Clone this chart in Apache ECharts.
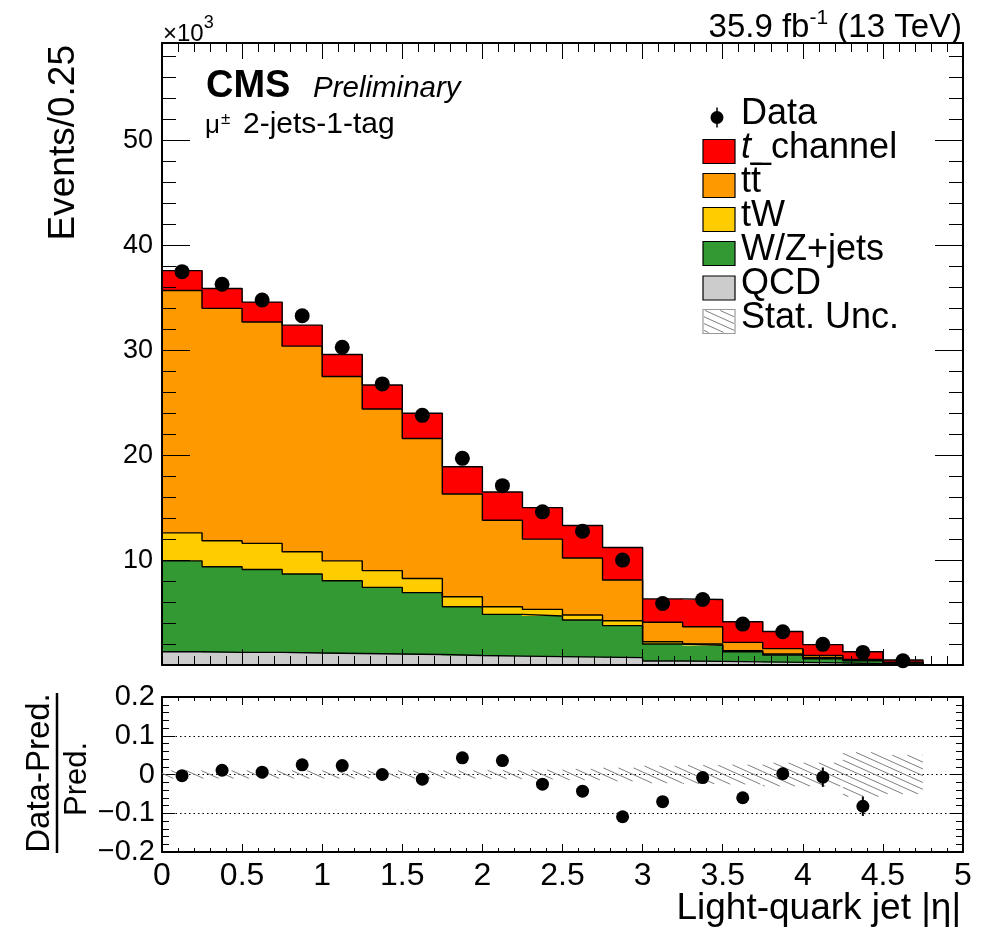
<!DOCTYPE html>
<html>
<head>
<meta charset="utf-8">
<script src="https://cdn.jsdelivr.net/npm/echarts@6/dist/echarts.min.js"></script>
<style>
html, body { margin: 0; padding: 0; background: #fff; }
#chart { width: 993px; height: 945px; }
</style>
</head>
<body>
<div id="chart"></div>
<script>
// bin edges, light-quark jet |eta|
const binEdges = [0, 0.25, 0.5, 0.75, 1, 1.25, 1.5, 1.75, 2, 2.25, 2.5, 2.75, 3, 3.25, 3.5, 3.75, 4, 4.25, 4.5, 4.75, 5];

// per-process yields in each bin (x10^3 events), bottom of the stack first
const qcd      = [1.27, 1.2, 1.2, 1.15, 1.1, 1.05, 1.0, 0.9, 0.85, 0.8, 0.75, 0.7, 0.38, 0.35, 0.3, 0.25, 0.2, 0.12, 0.05, 0];
const wzjets   = [8.66, 8.17, 7.9, 7.52, 6.93, 6.35, 5.9, 4.65, 3.98, 3.87, 3.54, 3.05, 1.62, 1.52, 0.97, 0.7, 0.4, 0.28, 0.15, 0];
const tW       = [2.67, 2.47, 2.5, 2.13, 1.9, 1.6, 1.35, 0.95, 0.72, 0.63, 0.47, 0.47, 0.22, 0.13, 0.1, 0.1, 0.13, 0.05, 0.02, 0];
const ttbar    = [23.1, 22.16, 21.1, 19.6, 17.57, 15.4, 13.35, 9.8, 8.25, 6.7, 5.44, 3.88, 1.85, 1.65, 0.79, 0.51, 0.19, 0.09, 0.04, 0];
const tchannel = [1.9, 1.9, 1.9, 2.0, 2.1, 2.3, 2.4, 2.6, 2.7, 3.0, 3.1, 3.1, 2.23, 2.6, 1.97, 1.64, 1.02, 0.73, 0.22, 0];
const dataObs  = [37.5, 36.3, 34.8, 33.3, 30.3, 26.8, 23.8, 19.7, 17.1, 14.6, 12.76, 10.0, 5.87, 6.25, 3.9, 3.17, 1.97, 1.2, 0.41, null];

// lower panel: (Data-Pred.)/Pred.
const ratio    = [-0.003, 0.011, 0.006, 0.025, 0.023, 0.0, -0.012, 0.043, 0.036, -0.025, -0.043, -0.109, -0.07, -0.008, -0.06, 0.002, -0.007, -0.082, null, null];
const ratioErr = [0.004, 0.004, 0.004, 0.004, 0.004, 0.005, 0.005, 0.006, 0.006, 0.007, 0.008, 0.01, 0.012, 0.012, 0.015, 0.016, 0.025, 0.025, null, null];
const statUnc  = [0.01, 0.01, 0.01, 0.01, 0.01, 0.01, 0.01, 0.01, 0.011, 0.012, 0.014, 0.017, 0.022, 0.024, 0.025, 0.03, 0.03, 0.057, 0.05, 0];

const FONT = "'Liberation Sans', Arial, Helvetica, sans-serif";
const yMaxUpper = 59.3;

const chart = echarts.init(document.getElementById('chart'));

const ctx = document.createElement('canvas').getContext('2d');
function textWidth(str, font) {
	ctx.font = font;
	return ctx.measureText(str).width;
}

// diagonal hatch lines inside a pixel box
function hatchLines(x0, y0, x1, y1) {
	const slope = 0.45, gap = 6.8;
	const out = [];
	const cMin = y0 - slope * x1, cMax = y1 - slope * x0;
	for (let k = Math.ceil(cMin / gap); k * gap <= cMax; k++) {
		const c = k * gap;
		const xa = Math.max(x0, (y0 - c) / slope);
		const xb = Math.min(x1, (y1 - c) / slope);
		if (xb > xa) {
			out.push({
				type: 'line',
				shape: { x1: xa, y1: slope * xa + c, x2: xb, y2: slope * xb + c },
				style: { stroke: '#808080', lineWidth: 1 }
			});
		}
	}
	return out;
}

const layers = [
	{ name: 'QCD', values: qcd, color: '#cccccc' },
	{ name: 'W/Z+jets', values: wzjets, color: '#339933' },
	{ name: 'tW', values: tW, color: '#ffcc00' },
	{ name: 'tt', values: ttbar, color: '#ff9900' },
	{ name: 't_channel', values: tchannel, color: '#ff0000' }
];

const series = [];
let base = qcd.map(() => 0);
layers.forEach(l => {
	const items = l.values.map((v, i) => [binEdges[i], base[i], base[i] + v, binEdges[i + 1]]);
	base = items.map(d => d[2]);
	series.push({
		type: 'custom',
		name: l.name,
		xAxisIndex: 0,
		yAxisIndex: 0,
		z: 2,
		clip: true,
		data: items,
		renderItem: (params, api) => {
			const p0 = api.coord([api.value(0), api.value(2)]);
			const p1 = api.coord([api.value(3), api.value(1)]);
			// half a pixel of overlap so neighbouring bins do not show seams
			return {
				type: 'rect',
				shape: { x: p0[0] - 0.5, y: p0[1], width: p1[0] - p0[0] + 1, height: p1[1] - p0[1] },
				style: { fill: l.color }
			};
		}
	});
	// step outline of the cumulative top
	const pts = [[binEdges[0], 0]];
	items.forEach(d => { pts.push([d[0], d[2]], [d[3], d[2]]); });
	pts.push([binEdges[binEdges.length - 1], 0]);
	series.push({
		type: 'line',
		xAxisIndex: 0,
		yAxisIndex: 0,
		z: 3,
		data: pts,
		symbol: 'none',
		silent: true,
		lineStyle: { color: '#000', width: 1.4 }
	});
});

const binCenter = i => (binEdges[i] + binEdges[i + 1]) / 2;

series.push({
	type: 'scatter',
	name: 'Data',
	xAxisIndex: 0,
	yAxisIndex: 0,
	z: 5,
	symbolSize: 15,
	itemStyle: { color: '#000', opacity: 1 },
	data: dataObs.map((v, i) => v == null ? null : [binCenter(i), v]).filter(d => d)
});

// ratio panel: stat. uncertainty hatch
series.push({
	type: 'custom',
	xAxisIndex: 2,
	yAxisIndex: 4,
	z: 11,
	data: statUnc.map((u, i) => [binEdges[i], -u, u, binEdges[i + 1]]),
	renderItem: (params, api) => {
		const p0 = api.coord([api.value(0), api.value(2)]);
		const p1 = api.coord([api.value(3), api.value(1)]);
		return { type: 'group', children: hatchLines(p0[0], p0[1], p1[0], p1[1]) };
	}
});
series.push({
	type: 'custom',
	xAxisIndex: 2,
	yAxisIndex: 4,
	z: 12,
	data: ratio.map((v, i) => v == null ? null : [binCenter(i), v, ratioErr[i]]).filter(d => d),
	renderItem: (params, api) => {
		const a = api.coord([api.value(0), api.value(1) + api.value(2)]);
		const b = api.coord([api.value(0), api.value(1) - api.value(2)]);
		return { type: 'line', shape: { x1: a[0], y1: a[1], x2: b[0], y2: b[1] }, style: { stroke: '#000', lineWidth: 2 } };
	}
});
series.push({
	type: 'scatter',
	xAxisIndex: 2,
	yAxisIndex: 4,
	z: 13,
	symbolSize: 13,
	itemStyle: { color: '#000', opacity: 1 },
	data: ratio.map((v, i) => v == null ? null : [binCenter(i), v]).filter(d => d)
});

function xAxisOf(grid, pos, labels, major, minor) {
	return {
		type: 'value', gridIndex: grid, position: pos, min: 0, max: 5, interval: 0.5, z: 10,
		axisLine: { show: true, onZero: false, lineStyle: { color: '#000', width: 2 } },
		axisTick: { show: true, inside: true, length: major, lineStyle: { color: '#000', width: 1 } },
		minorTick: { show: true, splitNumber: 5, length: minor, lineStyle: { color: '#000', width: 1 } },
		splitLine: { show: false },
		axisLabel: {
			show: labels, margin: 8, color: '#000', fontFamily: FONT, fontSize: 32,
			formatter: v => String(Math.round(v * 10) / 10)
		}
	};
}

function yUpper(pos, interval, len, labels, line) {
	return {
		type: 'value', gridIndex: 0, position: pos, min: 0, max: yMaxUpper, interval: interval, z: 10,
		axisLine: { show: line, onZero: false, lineStyle: { color: '#000', width: 2 } },
		axisTick: { show: true, inside: true, length: len, lineStyle: { color: '#000', width: 1 } },
		splitLine: { show: false },
		axisLabel: {
			show: labels, margin: 9, color: '#000', fontFamily: FONT, fontSize: 27,
			showMaxLabel: false,
			formatter: v => (v > 0 && Math.abs(v % 10) < 1e-6) ? String(v) : ''
		}
	};
}

function yLower(pos, labels) {
	return {
		type: 'value', gridIndex: 1, position: pos, min: -0.2, max: 0.2, interval: 0.1, z: 10,
		axisLine: { show: true, onZero: false, lineStyle: { color: '#000', width: 2 } },
		axisTick: { show: true, inside: true, length: 13, lineStyle: { color: '#000', width: 1 } },
		minorTick: { show: true, splitNumber: 5, length: 7, lineStyle: { color: '#000', width: 1 } },
		splitLine: { show: labels, lineStyle: { color: '#000', width: 1, type: [1.5, 3] } },
		axisLabel: {
			show: labels, margin: 7, color: '#000', fontFamily: FONT, fontSize: 29,
			formatter: v => {
				const r = Math.round(v * 10) / 10;
				if (r === 0) return '0';
				return r < 0 ? '\u2212' + String(-r) : String(r);
			}
		}
	};
}

// ---- texts and legend ----
const graphics = [];
// y is the baseline for unrotated text
function txt(x, y, str, size, opts) {
	opts = opts || {};
	const font = (opts.style || '') + ' ' + (opts.weight || 'normal') + ' ' + size + 'px ' + FONT;
	const rotated = !!opts.rotation;
	graphics.push({
		type: 'text', x: x, y: rotated ? y : y - 0.24 * size, rotation: opts.rotation || 0, z: 20,
		style: {
			text: str, fill: '#000', font: font,
			align: opts.align || 'left', verticalAlign: rotated ? opts.vAlign : 'middle'
		}
	});
	return textWidth(str, font);
}

// x10^3
let w = txt(163, 40, '\u00d710', 24);
txt(163 + w, 27, '3', 18);

// luminosity, right aligned
{
	const fBig = 'normal normal 33px ' + FONT, fSup = 'normal normal 21px ' + FONT;
	const p1 = '35.9 fb', p2 = '-1', p3 = ' (13 TeV)';
	const total = textWidth(p1, fBig) + textWidth(p2, fSup) + textWidth(p3, fBig);
	let x = 962 - total;
	x += txt(x, 36, p1, 33);
	x += txt(x, 23, p2, 21);
	txt(x, 36, p3, 33);
}

txt(206, 96, 'CMS', 38, { weight: 'bold' });
txt(313, 96, 'Preliminary', 29.5, { style: 'italic' });
w = txt(205, 132, '\u03bc', 26);
txt(205 + w + 1, 123, '\u00b1', 17);
txt(243, 132, '2-jets-1-tag', 30);

// axis titles
txt(82, 45, 'Events/0.25', 37, { rotation: Math.PI / 2, align: 'right', vAlign: 'bottom' });
txt(961, 918, 'Light-quark jet |\u03b7|', 37, { align: 'right' });
txt(40, 773, 'Data-Pred.', 33, { rotation: Math.PI / 2, align: 'center', vAlign: 'middle' });
txt(77, 779, 'Pred.', 31, { rotation: Math.PI / 2, align: 'center', vAlign: 'middle' });
graphics.push({ type: 'line', z: 20, shape: { x1: 57, y1: 693, x2: 57, y2: 853 }, style: { stroke: '#000', lineWidth: 2.5 } });

// legend
const legX = 703, legW = 32, legH = 24, legTextX = 741, legFont = 36;
const rowY = [117.5, 151.5, 185.5, 219.5, 253.5, 288, 321.5];
const base5 = 5;
graphics.push({ type: 'line', z: 20, shape: { x1: 717, y1: rowY[0] - 10, x2: 717, y2: rowY[0] + 10 }, style: { stroke: '#000', lineWidth: 1.5 } });
graphics.push({ type: 'circle', z: 20, shape: { cx: 717, cy: rowY[0], r: 6.5 }, style: { fill: '#000' } });
txt(legTextX, rowY[0] + base5, 'Data', legFont);
const legendOrder = [layers[4], layers[3], layers[2], layers[1], layers[0]];
legendOrder.forEach((l, k) => {
	const yc = rowY[k + 1];
	graphics.push({
		type: 'rect', z: 20,
		shape: { x: legX, y: yc - legH / 2, width: legW, height: legH },
		style: { fill: l.color, stroke: '#000', lineWidth: 1.2 }
	});
});
{
	const y1 = rowY[1] + base5;
	const wt = txt(legTextX, y1, 't', legFont, { style: 'italic' });
	txt(legTextX + wt, y1, '_channel', legFont);
	const y2 = rowY[2] + base5;
	const wt2 = txt(legTextX, y2, 't', legFont);
	const wt3 = txt(legTextX + wt2, y2, 't', legFont);
	graphics.push({ type: 'line', z: 20, shape: { x1: legTextX + wt2 - 1, y1: y2 - 27, x2: legTextX + wt2 + wt3 + 1, y2: y2 - 27 }, style: { stroke: '#000', lineWidth: 1.5 } });
	txt(legTextX, rowY[3] + base5, 'tW', legFont);
	txt(legTextX, rowY[4] + base5, 'W/Z+jets', legFont);
	txt(legTextX, rowY[5] + base5, 'QCD', legFont);
	const yc = rowY[6];
	graphics.push({ type: 'group', z: 20, children: hatchLines(legX + 1, yc - legH / 2 + 1, legX + legW - 1, yc + legH / 2 - 1) });
	graphics.push({
		type: 'rect', z: 20,
		shape: { x: legX, y: yc - legH / 2, width: legW, height: legH },
		style: { fill: 'none', stroke: '#9a9a9a', lineWidth: 1.2 }
	});
	txt(legTextX, yc + base5, 'Stat. Unc.', legFont);
}

chart.setOption({
	animation: false,
	backgroundColor: '#fff',
	grid: [
		{ left: 162, top: 43, width: 801, height: 622 },
		{ left: 162, top: 697, width: 801, height: 155 }
	],
	xAxis: [
		xAxisOf(0, 'bottom', false, 16, 9),
		xAxisOf(0, 'top', false, 16, 9),
		xAxisOf(1, 'bottom', true, 8, 4),
		xAxisOf(1, 'top', false, 8, 4)
	],
	yAxis: [
		yUpper('left', 10, 28, true, true),
		yUpper('left', 2, 14, false, false),
		yUpper('right', 10, 28, false, true),
		yUpper('right', 2, 14, false, false),
		yLower('left', true),
		yLower('right', false)
	],
	series: series,
	graphic: graphics
});
</script>
</body>
</html>
